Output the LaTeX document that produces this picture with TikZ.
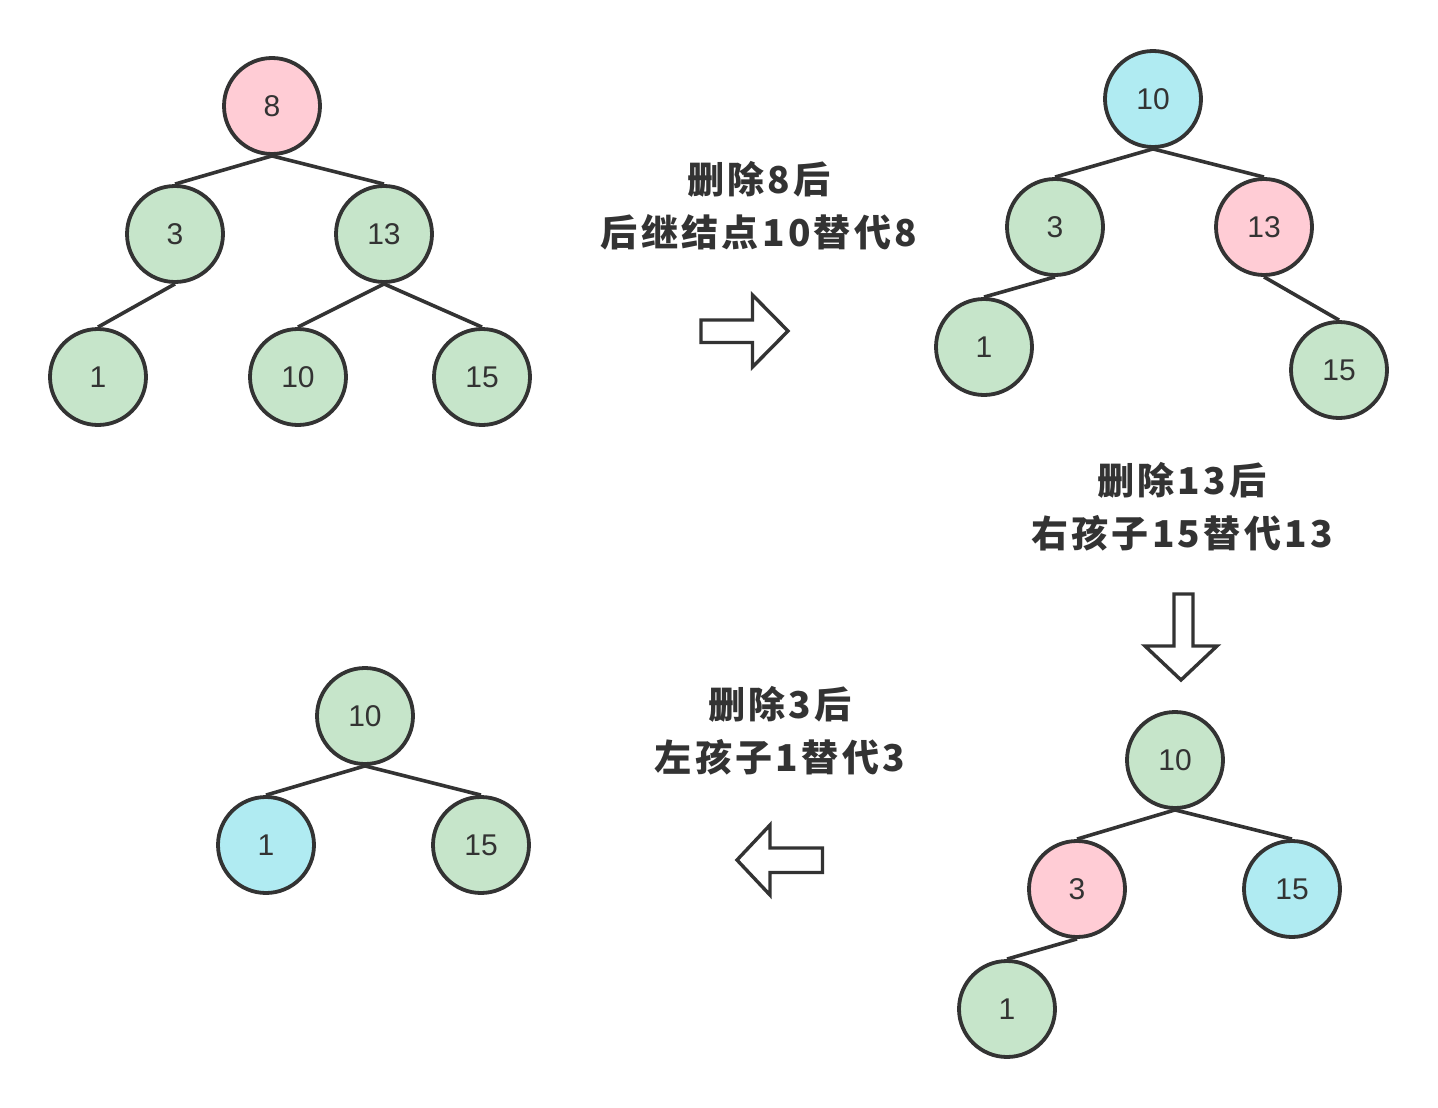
\documentclass[tikz,border=0pt]{standalone}
\usepackage{fontspec}
\setmainfont{Liberation Sans}
\newfontfamily\cjk[LetterSpace=9]{Noto Sans CJK SC}
\definecolor{ink}{HTML}{333333}
\definecolor{pinkf}{HTML}{FFCCD5}
\definecolor{greenf}{HTML}{C6E5CA}
\definecolor{cyanf}{HTML}{B0EBF2}
\tikzset{
  tn/.style={circle, draw=ink, line width=3.8pt, minimum size=96pt, inner sep=0pt,
    font=\fontsize{30}{34}\selectfont, text=ink},
  gn/.style={tn, fill=greenf},
  pn/.style={tn, fill=pinkf},
  cn/.style={tn, fill=cyanf},
  edge/.style={draw=ink, line width=3.6pt},
  blockarrow/.style={draw=ink, line width=3.4pt, fill=white, line join=miter},
  lbl/.style={align=center, text=ink, inner sep=0pt,
    font=\cjk\bfseries\fontsize{37}{53}\selectfont}
}
\begin{document}
\begin{tikzpicture}[x=1pt,y=-1pt]
\useasboundingbox[fill=white] (0,0) rectangle (1438,1108);
% Tree 1
\node[pn] (a8) at (272,106) {8};
\node[gn] (a3) at (175,234) {3};
\node[gn] (a13) at (384,234) {13};
\node[gn] (a1) at (98,377) {1};
\node[gn] (a10) at (298,377) {10};
\node[gn] (a15) at (482,377) {15};
\draw[edge] (a8.south) -- (a3.north);
\draw[edge] (a8.south) -- (a13.north);
\draw[edge] (a3.south) -- (a1.north);
\draw[edge] (a13.south) -- (a10.north);
\draw[edge] (a13.south) -- (a15.north);
% Tree 2
\node[cn] (b10) at (1153,99) {10};
\node[gn] (b3) at (1055,227) {3};
\node[pn] (b13) at (1264,227) {13};
\node[gn] (b1) at (984,347) {1};
\node[gn] (b15) at (1339,370) {15};
\draw[edge] (b10.south) -- (b3.north);
\draw[edge] (b10.south) -- (b13.north);
\draw[edge] (b3.south) -- (b1.north);
\draw[edge] (b13.south) -- (b15.north);
% Tree 3
\node[gn] (c10) at (1175,760) {10};
\node[pn] (c3) at (1077,889) {3};
\node[cn] (c15) at (1292,889) {15};
\node[gn] (c1) at (1007,1009) {1};
\draw[edge] (c10.south) -- (c3.north);
\draw[edge] (c10.south) -- (c15.north);
\draw[edge] (c3.south) -- (c1.north);
% Tree 4
\node[gn] (d10) at (365,716) {10};
\node[cn] (d1) at (266,845) {1};
\node[gn] (d15) at (481,845) {15};
\draw[edge] (d10.south) -- (d1.north);
\draw[edge] (d10.south) -- (d15.north);
% Labels
\node[lbl] (l1) at (759,206) {删除8后\\后继结点10替代8};
\node[lbl] (l2) at (1182,507) {删除13后\\右孩子15替代13};
\node[lbl] (l3) at (780,731) {删除3后\\左孩子1替代3};
% Block arrows
\draw[blockarrow] (701,320) -- (752.5,320) -- (752.5,295) -- (788,331) -- (752.5,367) -- (752.5,342.5) -- (701,342.5) -- cycle;
\draw[blockarrow] (1174,594) -- (1193,594) -- (1193,646) -- (1217,646) -- (1181,680) -- (1145,646) -- (1174,646) -- cycle;
\draw[blockarrow] (822.5,848) -- (770,848) -- (770,825) -- (737,860) -- (770,895) -- (770,872.5) -- (822.5,872.5) -- cycle;
\end{tikzpicture}
\end{document}
